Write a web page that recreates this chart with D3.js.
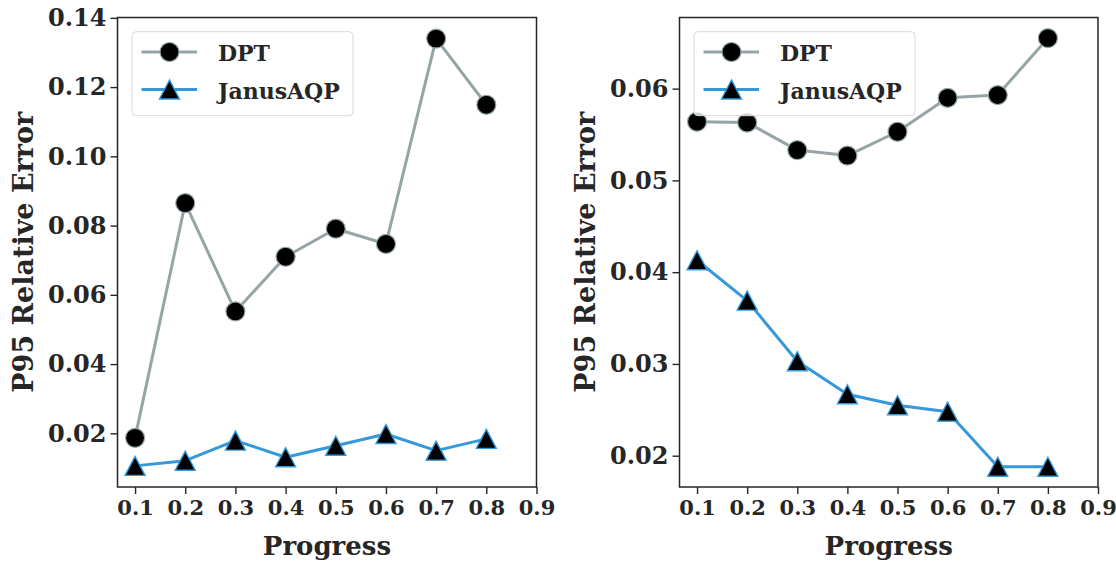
<!DOCTYPE html>
<html>
<head>
<meta charset="utf-8">
<script src="https://cdn.jsdelivr.net/npm/d3@7"></script>
<style>
  html, body { margin: 0; padding: 0; background: #ffffff; }
  svg { display: block; }
  text { font-family: "DejaVu Serif", serif; font-weight: bold; fill: #262626; }
</style>
</head>
<body>
<svg id="chart" width="1116" height="563"></svg>
<script>
// ---------------- data ----------------
const progress = [0.1, 0.2, 0.3, 0.4, 0.5, 0.6, 0.7, 0.8];
const xTicks = [0.1, 0.2, 0.3, 0.4, 0.5, 0.6, 0.7, 0.8, 0.9];
const seriesNames = ["DPT", "JanusAQP"];

const leftDPT   = [0.0187, 0.0865, 0.0552, 0.0710, 0.0791, 0.0747, 0.1340, 0.1149];
const leftJanus = [0.0106, 0.0121, 0.0179, 0.0131, 0.0164, 0.0198, 0.0150, 0.0184];
const leftYTicks = [0.02, 0.04, 0.06, 0.08, 0.10, 0.12, 0.14];

const rightDPT   = [0.0564, 0.0563, 0.0533, 0.0527, 0.0553, 0.0590, 0.0593, 0.0655];
const rightJanus = [0.0413, 0.0369, 0.0303, 0.0267, 0.0255, 0.0248, 0.0188, 0.0188];
const rightYTicks = [0.02, 0.03, 0.04, 0.05, 0.06];

const xLabel = "Progress";
const yLabel = "P95 Relative Error";

// ---------------- styles ----------------
const colors = { "DPT": "#95a5a6", "JanusAQP": "#3498db" };
const markers = { "DPT": "circle", "JanusAQP": "triangle" };
const ink = "#262626";

const svg = d3.select("#chart");

const panels = [
  { left: 117.5, right: 536.5, top: 17.5, bottom: 487, ydom: [0.0045, 0.1401],
    series: [leftDPT, leftJanus], yTicks: leftYTicks, yFmt: d3.format(".2f") },
  { left: 679.5, right: 1098, top: 17.5, bottom: 487, ydom: [0.01659, 0.06775],
    series: [rightDPT, rightJanus], yTicks: rightYTicks, yFmt: d3.format(".2f") }
];

function drawMarker(g, type, cx, cy, stroke) {
  if (type === "circle") {
    g.append("circle").attr("cx", cx).attr("cy", cy).attr("r", 9.5)
      .attr("fill", "#000").attr("stroke", stroke).attr("stroke-width", 1.2);
  } else {
    const w = 10, h = 9.5;
    g.append("path")
      .attr("d", `M${cx},${cy - h}L${cx - w},${cy + h}L${cx + w},${cy + h}Z`)
      .attr("fill", "#000").attr("stroke", stroke).attr("stroke-width", 1.4)
      .attr("stroke-linejoin", "miter");
  }
}

panels.forEach(p => {
  const x = d3.scaleLinear().domain([0.065, 0.9]).range([p.left, p.right]);
  const y = d3.scaleLinear().domain(p.ydom).range([p.bottom, p.top]);
  const g = svg.append("g");

  // x axis
  const xAxis = d3.axisBottom(x).tickValues(xTicks).tickFormat(d3.format(".1f"))
    .tickSize(7).tickPadding(6);
  const gx = g.append("g").attr("transform", `translate(0,${p.bottom})`).call(xAxis);
  gx.select(".domain").remove();
  gx.selectAll(".tick line").attr("stroke", ink).attr("stroke-width", 1.4);
  gx.selectAll(".tick text").attr("font-size", 21).attr("fill", ink)
    .attr("font-family", "DejaVu Serif").attr("font-weight", "bold");

  // y axis
  const yAxis = d3.axisLeft(y).tickValues(p.yTicks).tickFormat(p.yFmt)
    .tickSize(7).tickPadding(4);
  const gy = g.append("g").attr("transform", `translate(${p.left},0)`).call(yAxis);
  gy.select(".domain").remove();
  gy.selectAll(".tick line").attr("stroke", ink).attr("stroke-width", 1.4);
  gy.selectAll(".tick text").attr("font-size", 24).attr("fill", ink)
    .attr("font-family", "DejaVu Serif").attr("font-weight", "bold");

  // frame
  g.append("rect").attr("x", p.left).attr("y", p.top)
    .attr("width", p.right - p.left).attr("height", p.bottom - p.top)
    .attr("fill", "none").attr("stroke", ink).attr("stroke-width", 1.5);

  // axis labels
  g.append("text").attr("x", (p.left + p.right) / 2).attr("y", 555)
    .attr("text-anchor", "middle").attr("font-size", 26).text(xLabel);
  g.append("text")
    .attr("transform", `translate(${p.left - 85},${(p.top + p.bottom) / 2}) rotate(-90)`)
    .attr("text-anchor", "middle").attr("font-size", 27).text(yLabel);

  // lines + markers
  seriesNames.forEach((name, si) => {
    const vals = p.series[si];
    const line = d3.line().x((d, i) => x(progress[i])).y(d => y(d));
    g.append("path").datum(vals).attr("d", line)
      .attr("fill", "none").attr("stroke", colors[name]).attr("stroke-width", 3)
      .attr("stroke-linejoin", "round");
    vals.forEach((v, i) => drawMarker(g, markers[name], x(progress[i]), y(v), colors[name]));
  });

  // legend
  const lx = p.left + 14.5, ly = 31.7;
  const lg = g.append("g");
  lg.append("rect").attr("x", lx).attr("y", ly).attr("width", 221).attr("height", 84)
    .attr("rx", 4).attr("fill", "#ffffff").attr("fill-opacity", 0.8)
    .attr("stroke", "#d9d9d9").attr("stroke-width", 1);
  seriesNames.forEach((name, si) => {
    const ry = 52 + si * 37.5;
    lg.append("line").attr("x1", lx + 9.5).attr("x2", lx + 65).attr("y1", ry).attr("y2", ry)
      .attr("stroke", colors[name]).attr("stroke-width", 3);
    drawMarker(lg, markers[name], lx + 37.5, ry, colors[name]);
    lg.append("text").attr("x", lx + 86).attr("y", ry + 9)
      .attr("font-size", 22).text(name);
  });
});
</script>
</body>
</html>
